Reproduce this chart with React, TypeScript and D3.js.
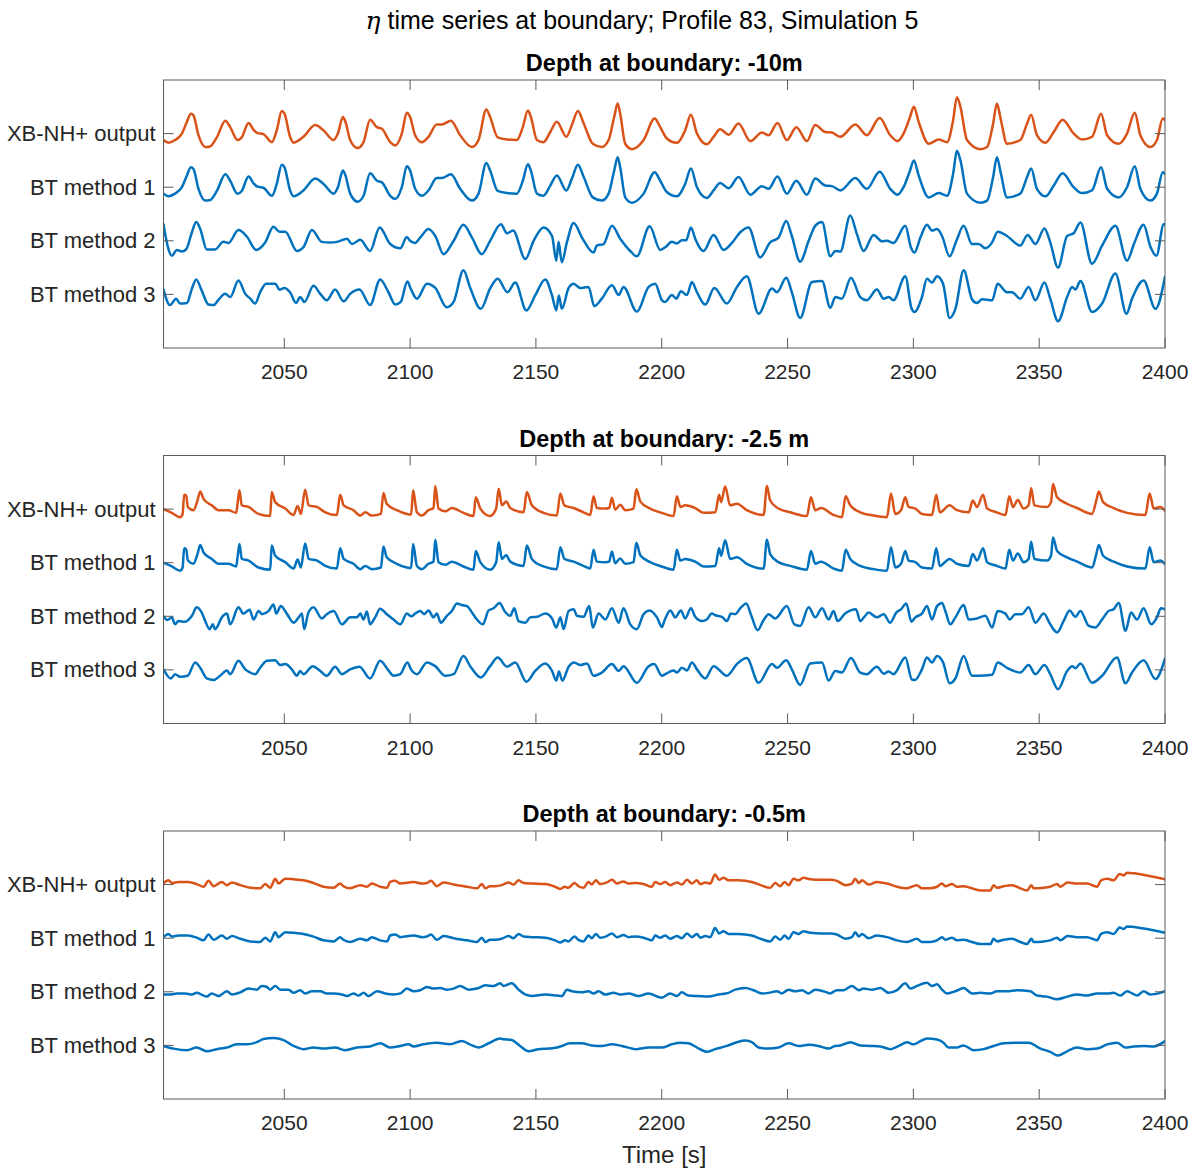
import React from 'react';
import * as d3 from 'd3';

// time axis
const xTicks = [2050, 2100, 2150, 2200, 2250, 2300, 2350, 2400];
const xDomain = [2002, 2400];

// y tick labels (top to bottom) and the offset each series is drawn at
const seriesLabels = ['XB-NH+ output', 'BT method 1', 'BT method 2', 'BT method 3'];
const seriesOffsets = [4, 3, 2, 1];

const panelTitles = ['Depth at boundary: -10m', 'Depth at boundary: -2.5 m', 'Depth at boundary: -0.5m'];

// eta values [time, eta], eta in units of the trace spacing
// panel 1 (-10 m)
const p1XB = [[2002,-0.12],[2004,-0.17],[2006.6,-0.12],[2009.3,0],[2011.3,0.22],[2012.9,0.37],[2013.9,0.34],[2015.9,-0.03],[2018.6,-0.25],[2020.5,-0.24],[2023.2,-0.07],[2026.6,0.24],[2028.5,0.12],[2031.4,-0.12],[2033.1,-0.07],[2035.8,0.2],[2037.8,0.07],[2039.4,0.01],[2041.7,-0.01],[2045.1,-0.16],[2047,0.06],[2049,0.42],[2050.1,0.37],[2052.3,-0.06],[2053.7,-0.17],[2057.6,-0.06],[2062.3,0.16],[2065.6,0.06],[2069.6,-0.12],[2071.3,0],[2073.3,0.31],[2074.3,0.22],[2076.2,-0.12],[2079.1,-0.27],[2081.5,-0.16],[2084.1,0.26],[2086.8,0.12],[2088.8,0.09],[2092.1,-0.16],[2094.1,-0.22],[2096.7,0],[2098.7,0.39],[2100,0.31],[2102,-0.03],[2104.7,-0.16],[2107.3,-0.06],[2110.6,0.17],[2112.6,0.17],[2116.2,0.24],[2119.9,-0.03],[2124.6,-0.25],[2127.2,-0.12],[2130.3,0.45],[2131.8,0.31],[2134.8,-0.07],[2138.5,-0.11],[2142.4,-0.12],[2144.8,0.12],[2146.8,0.43],[2148,0.31],[2150.4,-0.12],[2153,-0.16],[2155.7,0.03],[2158.3,0.22],[2162.1,-0.06],[2164.3,0.16],[2166.7,0.42],[2169,0.19],[2172.6,-0.19],[2176.2,-0.25],[2178.9,-0.12],[2181.1,0.31],[2182.5,0.56],[2183.5,0.37],[2185.5,-0.19],[2188.2,-0.29],[2192.8,-0.12],[2197.2,0.28],[2199.4,0.12],[2202,-0.09],[2206,-0.17],[2209.3,0.06],[2211.6,0.35],[2214,0],[2217.9,-0.2],[2220.6,-0.06],[2223.2,0.08],[2226.6,-0.02],[2230.5,0.19],[2235.2,-0.14],[2239.8,0.02],[2242.5,-0.03],[2246,0.2],[2249.7,-0.12],[2253.5,0.12],[2257.7,-0.14],[2261,0.16],[2265,0.03],[2267.6,0.02],[2271,-0.06],[2276.9,0.17],[2281.5,-0.03],[2286.6,0.29],[2290.8,-0.03],[2293.7,-0.14],[2296.1,0],[2298.6,0.3],[2300.2,0.5],[2302.1,0.22],[2306.1,-0.19],[2310.1,-0.11],[2313.4,-0.16],[2315.8,0.25],[2317.3,0.68],[2318.7,0.5],[2321.3,-0.12],[2326.6,-0.29],[2329.3,-0.25],[2331.7,0.19],[2333.2,0.56],[2334.8,0.25],[2337.2,-0.19],[2342.5,-0.12],[2345.2,0.19],[2346.8,0.35],[2349.1,-0.03],[2352.5,-0.17],[2355.8,0.03],[2359.3,0.26],[2363.7,0],[2367,-0.11],[2371,-0.06],[2374.6,0.37],[2377,-0.03],[2381.6,-0.19],[2384.9,0],[2388,0.39],[2390.2,-0.03],[2394.2,-0.25],[2396.8,-0.12],[2399.1,0.28],[2400,0.25]];
const p1BT1 = p1XB; // method 1 trace is indistinguishable from the XB-NH+ output
const p1BT2 = [[2002,0.31],[2003.6,-0.09],[2005.3,-0.28],[2007.3,-0.17],[2009.3,-0.2],[2011,-0.16],[2013.3,0.16],[2015,0.35],[2016.6,0.22],[2019.2,-0.16],[2022.5,-0.16],[2025.8,-0.02],[2027.8,-0.04],[2031.8,0.2],[2035.1,0.08],[2038.8,-0.17],[2042.4,-0.03],[2045.7,0.26],[2048.1,0.17],[2050.4,0.17],[2055,-0.19],[2057.6,-0.12],[2061,0.2],[2064.9,-0.02],[2068.2,-0.03],[2070.9,-0.02],[2074.9,0.04],[2076.9,-0.06],[2080.2,0.02],[2084.1,-0.19],[2087.9,0.25],[2092.1,-0.06],[2096.1,-0.14],[2098.7,0.07],[2100,0],[2102,-0.04],[2104,0.06],[2107.3,0.22],[2110,0.09],[2113.3,-0.25],[2117.3,0],[2121.2,0.3],[2124.6,0.06],[2128.5,-0.25],[2131.8,0],[2136.1,0.31],[2138.5,0.14],[2140.9,0.19],[2145.8,-0.34],[2149.1,0],[2153,0.25],[2156.4,0.09],[2158.1,-0.37],[2159,-0.02],[2160.3,-0.4],[2162.3,-0.03],[2165,0.33],[2168.3,0.06],[2172.9,-0.22],[2174.2,-0.09],[2176.9,-0.06],[2180.2,0.28],[2183.5,0.04],[2187.5,-0.19],[2190.1,-0.29],[2195.2,0.27],[2199.4,-0.17],[2201.4,-0.12],[2204,-0.02],[2206,-0.05],[2208,0.01],[2209.7,0.01],[2211.6,0.25],[2213.3,0.04],[2216.6,-0.19],[2220.6,0.11],[2224.6,-0.17],[2227.9,-0.04],[2231.2,0.16],[2234.5,0.25],[2239.1,-0.31],[2243.1,-0.03],[2246.4,0.06],[2249.5,0.37],[2251.7,0.09],[2255,-0.39],[2258.4,0],[2261,0.28],[2263.7,0.35],[2267,-0.29],[2269,-0.19],[2271,-0.2],[2274.9,0.47],[2277.6,0.12],[2280.2,-0.19],[2284.2,0.11],[2287.5,-0.01],[2289.5,0],[2292.1,-0.04],[2296.8,0.28],[2299,-0.12],[2300.4,-0.22],[2302.8,0.06],[2305.4,0.3],[2307.4,0.19],[2309.4,0.22],[2311.4,0.09],[2314.4,-0.29],[2317.1,0],[2320,0.28],[2323.3,-0.06],[2326,-0.06],[2328.6,-0.14],[2331.3,-0.03],[2333.5,0.17],[2337.2,0.09],[2342.5,-0.09],[2345.4,0.11],[2348.5,-0.06],[2352.1,0.23],[2354.4,-0.03],[2357.5,-0.5],[2361.1,0.09],[2363.7,0.14],[2366.4,0.34],[2371,-0.43],[2375,-0.09],[2380.3,0.28],[2384.9,-0.37],[2387.8,-0.04],[2391.5,0.3],[2394.2,-0.11],[2396.6,-0.28],[2399.5,0.31],[2400,0.3]];
const p1BT3 = [[2002,0.09],[2004.6,-0.2],[2007,-0.08],[2008.6,-0.17],[2011.3,-0.16],[2013.3,0.11],[2015,0.28],[2017.2,0.07],[2019.9,-0.19],[2021.9,-0.2],[2023.9,-0.1],[2026.5,0.01],[2028.5,-0.05],[2031.8,0.26],[2034.5,0.01],[2036.5,-0.08],[2038.4,-0.17],[2040.4,0.04],[2042.8,0.2],[2046.4,0.2],[2048.1,0.09],[2050,0.12],[2052.3,0.04],[2054.7,-0.16],[2056.3,-0.05],[2058,-0.14],[2061.6,0.16],[2064.3,0.01],[2066.9,-0.11],[2070.2,0.09],[2073.6,-0.13],[2076.2,0.01],[2079.9,0.09],[2084.1,-0.2],[2088.1,0.28],[2091.4,0.04],[2094.1,-0.19],[2096.3,-0.14],[2098.9,0.24],[2100.3,0.1],[2102.7,-0.08],[2106.7,0.2],[2110,0.12],[2114.6,-0.24],[2117.3,-0.14],[2121.2,0.45],[2123.9,0.12],[2128.1,-0.27],[2131.8,0.11],[2134.8,0.29],[2138.7,0.04],[2141.8,0.22],[2146.2,-0.3],[2149.7,-0.02],[2153.7,0.28],[2156.4,-0.02],[2158.1,-0.3],[2159.1,-0.02],[2160.3,-0.27],[2163,0.12],[2165,0.2],[2167.6,0.12],[2170.9,0.14],[2173.2,-0.22],[2176.2,-0.08],[2180.2,0.17],[2182.9,-0.01],[2184.8,0.14],[2190.1,-0.32],[2194.8,0.14],[2197.4,0.2],[2200.1,-0.11],[2201.4,-0.14],[2204,-0.01],[2205.8,-0.08],[2207.6,0.06],[2210,-0.01],[2212,0.23],[2214,0.04],[2217.3,-0.19],[2220.9,0.12],[2225.9,-0.17],[2229.9,0.14],[2233.8,0.34],[2238.5,-0.36],[2243.8,0.11],[2245.8,0.04],[2249.5,0.31],[2251.7,0.04],[2255,-0.44],[2259.7,0.23],[2263.7,0.25],[2267,-0.25],[2269,-0.05],[2271.6,-0.08],[2275.2,0.31],[2278.9,-0.05],[2281.5,-0.11],[2285.5,0.09],[2288.2,-0.08],[2290.2,-0.05],[2292.1,-0.11],[2296.8,0.34],[2299.2,-0.25],[2300.4,-0.33],[2303.4,-0.05],[2305.4,0.29],[2307.4,0.22],[2309.4,0.34],[2311.8,0.2],[2314.4,-0.44],[2316.7,-0.27],[2320,0.45],[2323.3,-0.09],[2325.3,-0.16],[2327.3,-0.09],[2331.3,-0.11],[2333.5,0.2],[2337.2,0.04],[2339.2,0.04],[2342.5,-0.08],[2345.8,0.14],[2348.5,-0.11],[2352.1,0.22],[2354.4,-0.08],[2357.5,-0.5],[2361.1,-0.05],[2363.1,0.14],[2364.4,0.09],[2366.4,0.25],[2371,-0.33],[2375,-0.17],[2380.3,0.39],[2384.7,-0.36],[2386.9,-0.08],[2391.5,0.26],[2396.2,-0.27],[2400,0.33]];

// panel 2 (-2.5 m)
const p2XB = [[2002,0],[2005.3,-0.07],[2008.6,-0.15],[2009.6,-0.09],[2010.2,0.27],[2011,0.25],[2011.7,0.04],[2013.9,-0.02],[2015.5,0.16],[2016.6,0.33],[2017.9,0.19],[2021.2,0.07],[2023.9,-0.02],[2027.8,-0.02],[2030.9,-0.07],[2031.5,0.13],[2032.2,0.35],[2033.1,0.07],[2035.8,0.04],[2039.7,-0.09],[2044.4,-0.13],[2045,0.32],[2046.4,0.13],[2050.4,0.01],[2053.7,-0.11],[2055.3,0.06],[2056.6,-0.09],[2058.3,0.36],[2059.7,0.07],[2063,0.04],[2066.3,-0.06],[2070.9,-0.11],[2072.2,0.27],[2073.6,0.07],[2077.5,-0.02],[2080.2,-0.12],[2082.2,-0.06],[2084.8,-0.12],[2088.4,-0.09],[2089.4,0.3],[2090.7,0.1],[2094.7,-0.02],[2098.7,-0.09],[2100.4,-0.1],[2101.2,0.35],[2102.7,-0.06],[2104.7,-0.12],[2107.3,-0.02],[2109.3,0.02],[2110,0.43],[2111.3,0.01],[2114,-0.04],[2116.6,0.02],[2121.2,-0.07],[2125.2,-0.13],[2126.1,0.22],[2127.9,0.01],[2131.8,-0.13],[2134.2,0.01],[2135.2,0.38],[2136.5,0.07],[2138.2,0.14],[2139.8,0.02],[2145.1,-0.06],[2146.4,0.32],[2148.4,0.07],[2153,-0.07],[2158.3,-0.12],[2159.7,0.29],[2161.3,0.07],[2165,0.02],[2168.9,-0.06],[2171.6,-0.11],[2172.9,0.24],[2174.2,0.02],[2177.6,0.01],[2179.1,0.02],[2180.2,0.21],[2181.5,-0.01],[2183.5,0.08],[2185.5,-0.02],[2188.8,0.01],[2189.9,0.37],[2191.5,0.14],[2195.4,0.01],[2200,-0.07],[2204.7,-0.13],[2206,0.24],[2207.4,0.04],[2209.3,0.07],[2213.3,0.02],[2216.6,-0.07],[2221.3,-0.06],[2222.8,0.27],[2223.6,0.13],[2225.2,0.42],[2227.2,0.07],[2229.9,0.1],[2233.8,-0.02],[2240.5,-0.11],[2241.8,0.43],[2243.1,0.16],[2246.4,0.01],[2251.1,-0.06],[2257.7,-0.13],[2259.3,0.22],[2261,-0.02],[2263.3,0.02],[2268.3,-0.11],[2271.6,-0.15],[2273.1,0.24],[2274.9,0.07],[2278.9,-0.06],[2284.2,-0.12],[2289.5,-0.15],[2291.1,0.29],[2292.8,-0.09],[2295.1,-0.02],[2296.8,0.22],[2298.1,0.04],[2300.8,0.01],[2303.4,-0.09],[2307.4,-0.11],[2309.1,0.27],[2310.5,-0.06],[2314.4,0.07],[2317.3,-0.02],[2322,-0.06],[2323.6,0.16],[2325.3,0.04],[2327.7,0.27],[2329.3,0.01],[2333.2,-0.06],[2336.6,-0.11],[2338.1,0.24],[2339.6,0.04],[2341.5,0.17],[2343.8,0.01],[2345.8,0.07],[2346.8,0.39],[2348.1,0.07],[2353.1,0.04],[2354.7,0.13],[2355.5,0.47],[2357.1,0.22],[2361.1,0.1],[2365.1,0.02],[2371,-0.09],[2372.7,0.16],[2373.7,0.33],[2375.4,0.13],[2379.6,0.02],[2384.9,-0.07],[2392.2,-0.11],[2393.9,0.29],[2395.5,0.01],[2398.2,0.04],[2400,-0.03]];
const p2BT1 = p2XB;
const p2BT2 = [[2002,0],[2003.6,-0.07],[2005.3,-0.02],[2006.6,-0.15],[2007.9,-0.09],[2010.6,-0.1],[2013.3,0.01],[2015.2,0.17],[2017.2,0.07],[2018.6,-0.09],[2020.3,-0.24],[2021.6,-0.15],[2022.5,-0.24],[2025.2,-0.02],[2027.2,0.05],[2028.5,-0.15],[2031.8,0.17],[2033.7,0.05],[2036.2,0.12],[2037.8,-0.06],[2039.8,0.1],[2041.1,0.04],[2043.8,0.1],[2045.7,0.22],[2046.8,0.05],[2048.6,0.19],[2051,0.05],[2053.7,-0.12],[2055.7,-0.02],[2057,0.05],[2057.9,-0.24],[2059.6,0.07],[2061.6,0.17],[2064.9,-0.04],[2066.9,0.04],[2069.6,0.1],[2072.9,-0.15],[2076.2,-0.02],[2078.9,-0.02],[2080.2,0.05],[2081.5,-0.06],[2082.8,0.09],[2084.1,-0.15],[2086.1,-0.02],[2088.1,0.14],[2090.7,0.04],[2093.4,-0.06],[2096.1,-0.15],[2098.7,0.05],[2100.5,0],[2102,0.05],[2104,0.1],[2105.6,0.04],[2107.3,0.11],[2109.3,-0.02],[2110.6,0.05],[2112.2,-0.12],[2114.6,0.01],[2116.6,0.1],[2118.6,0.24],[2120.6,0.21],[2122.6,0.19],[2124.6,0.07],[2125.9,-0.02],[2128.9,-0.15],[2131.2,0.11],[2133.2,0.15],[2135.6,0.25],[2137.5,0.1],[2139.8,0.01],[2141.4,0.15],[2143.1,-0.09],[2145.8,-0.12],[2147.7,-0.02],[2150.4,-0.01],[2153.7,0.05],[2156.4,-0.04],[2158.1,-0.21],[2159.7,-0.02],[2161,-0.24],[2163,0.1],[2165,0.13],[2166.3,0.01],[2168.9,-0.01],[2171.2,0.19],[2172.6,-0.21],[2174.9,0.05],[2177.6,-0.06],[2180.2,0.15],[2182.9,-0.12],[2184.8,0.15],[2187.5,-0.15],[2190.1,-0.24],[2192.8,0.04],[2195.2,0.11],[2198.1,-0.02],[2200.1,-0.2],[2201,-0.09],[2203.4,0.11],[2205.4,-0.02],[2207.6,0.11],[2209.3,-0.04],[2211.6,0.15],[2213.3,-0.01],[2216,-0.09],[2217.9,-0.06],[2219.9,0.05],[2221.3,0.02],[2223.9,-0.01],[2225.9,-0.09],[2227.5,0.05],[2229.2,0.04],[2231.2,0.15],[2233.6,0.24],[2235.4,0.04],[2238.1,-0.26],[2240.5,-0.07],[2242.5,0.04],[2245.1,-0.04],[2249.7,0.19],[2252.7,-0.15],[2255,-0.18],[2258.4,0.17],[2261,-0.02],[2263.7,0.15],[2266.3,-0.06],[2268.3,0.1],[2269.9,-0.09],[2272.9,0.05],[2277.2,0.13],[2278.9,-0.09],[2280.5,-0.01],[2282.2,0.07],[2285.5,-0.02],[2288.2,0.04],[2290.8,-0.12],[2293.2,0.07],[2295.1,0.13],[2297.2,0.24],[2299.2,-0.1],[2300.8,-0.02],[2303.4,0.05],[2305.4,0.19],[2307.4,-0.06],[2309.4,0.19],[2311.4,0.25],[2312.7,0.1],[2314.7,-0.15],[2316.7,-0.02],[2320,0.21],[2322,-0.06],[2325.3,-0.04],[2328.6,0.01],[2331.3,-0.21],[2333.5,0.1],[2336.6,0.05],[2338.3,-0.06],[2340.5,0.04],[2343.2,0.04],[2345.8,0.17],[2348.5,-0.12],[2351.8,0.05],[2354.4,-0.15],[2357.1,-0.3],[2359.7,-0.09],[2362.1,0.11],[2364.4,-0.01],[2366.4,0.1],[2369.7,-0.18],[2372.3,-0.21],[2375,-0.06],[2377.6,0.1],[2379.6,0.13],[2381.6,0.25],[2384.3,-0.27],[2386.5,0.07],[2388.9,-0.06],[2391.5,0.15],[2394.5,-0.15],[2396.8,-0.02],[2398.4,0.15],[2400,0.13]];
const p2BT3 = [[2002,0.01],[2004.9,-0.16],[2006.6,-0.08],[2008.6,-0.13],[2011.6,-0.11],[2014.6,0.14],[2016.6,0.04],[2019.2,-0.16],[2021.9,-0.19],[2024.5,-0.11],[2027.2,-0.01],[2028.5,-0.08],[2031.8,0.17],[2034.5,0.01],[2036.5,-0.05],[2038.4,-0.08],[2040.4,0.04],[2043.1,0.17],[2046.4,0.18],[2048.4,0.09],[2050.4,0.11],[2053,0.01],[2055,-0.11],[2056.3,-0.02],[2057.6,-0.08],[2061.3,0.07],[2064.3,-0.02],[2066.9,-0.11],[2070.2,0.06],[2072.9,-0.08],[2076.2,0.01],[2079.9,0.06],[2084.1,-0.16],[2088.1,0.17],[2091.4,-0.01],[2093.4,-0.11],[2096.1,-0.08],[2098.9,0.14],[2100.5,0],[2102.7,-0.08],[2106.7,0.14],[2110,0.07],[2114,-0.11],[2117.3,-0.08],[2121.2,0.26],[2123.9,0.07],[2128.1,-0.14],[2131.8,0.07],[2134.8,0.23],[2138.5,0.06],[2141.8,0.14],[2146.2,-0.22],[2149.7,-0.02],[2153.7,0.12],[2156.4,-0.02],[2158.1,-0.2],[2159.1,-0.03],[2160.5,-0.2],[2163,0.06],[2165.2,0.14],[2167.6,0.09],[2170.3,0.12],[2172.9,-0.11],[2176.2,-0.05],[2180.2,0.11],[2182.9,-0.02],[2184.8,0.07],[2190.1,-0.24],[2194.8,0.07],[2197,0.11],[2200.1,-0.11],[2201.4,-0.08],[2204.7,-0.01],[2206,-0.05],[2208,0.04],[2210,-0.01],[2212,0.14],[2214,0.01],[2217.3,-0.16],[2220.6,0.07],[2225.9,-0.11],[2229.9,0.11],[2233.8,0.22],[2238.5,-0.24],[2243.8,0.11],[2245.8,0.04],[2249.5,0.18],[2251.7,0.01],[2255,-0.28],[2259,0.12],[2263.7,0.14],[2266.3,-0.2],[2269,-0.02],[2271.6,-0.05],[2275.2,0.22],[2278.9,-0.05],[2281.5,-0.08],[2285.5,0.06],[2288.2,-0.07],[2290.2,-0.03],[2292.1,-0.08],[2296.8,0.23],[2299.4,-0.18],[2300.6,-0.19],[2303.4,0.01],[2305.4,0.23],[2307.4,0.14],[2309.4,0.26],[2311.8,0.14],[2314.4,-0.25],[2316.7,-0.16],[2320,0.26],[2323.3,-0.11],[2326,-0.11],[2331.3,-0.09],[2333.5,0.14],[2337.2,0.04],[2342.5,-0.05],[2345.8,0.09],[2348.5,-0.08],[2352.1,0.09],[2354.4,-0.08],[2357.5,-0.36],[2361.1,-0.02],[2363.1,0.07],[2364.4,0.03],[2366.4,0.12],[2371,-0.24],[2375,-0.11],[2380.9,0.23],[2384.3,-0.25],[2386.9,-0.05],[2391.5,0.18],[2396.2,-0.17],[2400,0.21]];

// panel 3 (-0.5 m)
const p3XB = [[2002,0.02],[2004,0.08],[2005.3,0.03],[2008,0.05],[2011.9,0.05],[2015.2,0.01],[2017.9,-0.04],[2019.9,0.07],[2021.9,-0.03],[2025.2,0.05],[2027.2,-0.01],[2029.2,0.04],[2032.5,-0.01],[2036.5,-0.06],[2040.4,-0.07],[2042.4,0.01],[2044.4,-0.06],[2046.4,0.11],[2047.7,0.02],[2050.4,0.11],[2053.7,0.1],[2057.6,0.08],[2061.6,0.03],[2065.6,-0.04],[2069.6,-0.06],[2072.2,0.02],[2073.5,-0.03],[2076.2,-0.07],[2080.2,-0.01],[2082.8,-0.04],[2084.8,0.02],[2088.1,-0.04],[2090.8,-0.06],[2092.1,0.05],[2094.1,0.07],[2096.1,0.02],[2101.4,0.05],[2104.7,0.02],[2106.7,0.03],[2108.3,0.07],[2110.6,-0.03],[2113.3,0.04],[2117.3,0],[2122.6,-0.04],[2126.6,-0.07],[2128.5,0.01],[2129.9,-0.07],[2131.8,-0.03],[2133.8,-0.03],[2136.4,-0.01],[2139.1,0.04],[2141.1,0],[2143.1,0.08],[2145.1,0.03],[2148.4,0.02],[2153.7,0.01],[2157.6,-0.04],[2159.6,-0.08],[2161.6,-0.04],[2162.9,-0.06],[2165.3,0.03],[2166.9,-0.03],[2168.9,-0.06],[2170.9,0.05],[2172.2,0],[2173.8,0.08],[2175.5,0.01],[2178.2,0.04],[2180.2,0.09],[2182.2,0.02],[2184.8,0.06],[2186.8,0.02],[2189.4,0.03],[2192.8,0.01],[2196.1,-0.04],[2197.4,0.05],[2199.4,0.01],[2201.4,0.05],[2203.4,-0.01],[2206,0.04],[2208,0],[2210,0.09],[2212,0.02],[2214,0.08],[2215.3,0.01],[2217.3,0.04],[2219.3,0.02],[2221.2,0.19],[2222.8,0.09],[2224.6,0.13],[2226.5,0.08],[2230.5,0.08],[2235.8,0.05],[2239.8,-0.02],[2243.1,-0.06],[2245.1,0.03],[2247.1,-0.03],[2248.8,0.05],[2250.4,-0.01],[2252.4,0.11],[2254.4,0.08],[2256.3,0.13],[2259,0.1],[2263.6,0.09],[2267,0.09],[2269.6,0.07],[2273,-0.01],[2275.6,0.02],[2276.9,0.11],[2278.3,0.03],[2279.6,0.08],[2282.2,0],[2285.5,0.05],[2289.5,0.02],[2293.5,-0.04],[2297.5,-0.07],[2301.4,-0.01],[2303.4,-0.07],[2306.7,-0.07],[2309.4,-0.04],[2311.4,0.02],[2312.7,-0.03],[2315.4,0.01],[2317.3,-0.04],[2320,-0.03],[2322.6,-0.06],[2326.6,-0.11],[2330.6,-0.11],[2331.9,-0.01],[2333.2,-0.06],[2335.9,-0.03],[2339.2,-0.01],[2342.5,-0.07],[2345.2,-0.11],[2346.9,-0.01],[2347.8,-0.07],[2351.8,-0.06],[2354.4,-0.04],[2357.1,0.01],[2358.4,-0.04],[2361.3,0.04],[2365,0.02],[2369,0.02],[2373,-0.04],[2374.6,0.08],[2377,0.11],[2379.6,0.08],[2382,0.2],[2383.6,0.17],[2384.9,0.22],[2387.6,0.21],[2392.9,0.17],[2400,0.1]];
const p3BT1 = p3XB;
const p3BT2 = [[2002,-0.05],[2004.6,-0.05],[2007.3,-0.03],[2010.6,-0.03],[2013.3,-0.05],[2015.2,-0.02],[2019.2,-0.09],[2021.2,-0.03],[2023.9,-0.08],[2027.2,0.01],[2029.2,-0.05],[2032.5,-0.01],[2035.8,0.06],[2039.1,0.04],[2041.1,0.11],[2043.1,0.09],[2044.4,0.04],[2046.4,0.11],[2048.4,0.04],[2051.7,0.04],[2053.7,-0.02],[2056.3,0.03],[2058.3,-0.03],[2061,0.01],[2064.3,0.01],[2066.9,-0.03],[2069.6,-0.03],[2072.9,-0.05],[2074.9,-0.08],[2077.5,-0.03],[2079.5,-0.07],[2081.5,-0.02],[2083.5,-0.08],[2086.8,0.01],[2090.1,-0.03],[2093.4,-0.05],[2096.1,-0.03],[2098.7,0.06],[2101.4,0.01],[2104,0.03],[2106.7,0.09],[2109.3,0.06],[2112,0.07],[2114.6,0.04],[2117.3,0.06],[2119.9,0.11],[2123.2,0.04],[2126.6,0.06],[2129.9,0.12],[2133.2,0.11],[2135.8,0.16],[2137.1,0.11],[2140.4,0.16],[2143.1,0.04],[2145.7,-0.05],[2148.4,-0.08],[2153.7,-0.05],[2158.3,-0.07],[2160.3,-0.08],[2162.3,0.04],[2164.3,0.01],[2168.2,-0.01],[2170.9,0.01],[2172.9,-0.03],[2174.9,0.01],[2177.5,-0.05],[2180.8,-0.02],[2183.5,-0.05],[2186.8,-0.03],[2190.8,-0.08],[2194.7,-0.03],[2200,-0.11],[2203.4,-0.03],[2206,-0.08],[2208,-0.01],[2210.6,-0.07],[2214.6,-0.08],[2218.6,-0.09],[2222.6,-0.05],[2226.5,-0.02],[2229.2,0.04],[2233.2,0.07],[2236.5,0.03],[2239.8,-0.03],[2242.4,-0.02],[2245.8,0.01],[2247.7,-0.03],[2250.4,0.04],[2253,0.01],[2255.7,0.03],[2258.3,-0.03],[2261,0.04],[2264.3,0.01],[2266.9,-0.03],[2269.6,0.03],[2272.3,0.03],[2275.6,0.11],[2278.3,0.03],[2280.2,0.06],[2283.6,0.04],[2286.9,0.07],[2290.2,-0.02],[2293.5,0.03],[2296.8,0.16],[2298.8,0.06],[2301.4,0.11],[2305.4,0.17],[2307.4,0.11],[2309.4,0.14],[2311.4,0.04],[2313.4,-0.03],[2316.7,0.01],[2320,0.07],[2323.3,-0.03],[2326.6,-0.02],[2330.6,-0.03],[2333.2,0.01],[2337.2,0.01],[2341.2,0.03],[2346.5,0.01],[2349.1,-0.07],[2353.1,-0.09],[2357.1,-0.14],[2361.1,-0.09],[2365,-0.05],[2369,-0.07],[2373,-0.03],[2377,-0.03],[2379.6,-0.02],[2382.3,-0.07],[2384.9,0.01],[2386.9,-0.03],[2388.9,-0.07],[2391.5,0.01],[2394.2,-0.05],[2397.5,-0.03],[2400,0.01]];
const p3BT3 = [[2002,-0.01],[2006,-0.06],[2011.3,-0.09],[2015.2,-0.04],[2019.2,-0.11],[2023.2,-0.07],[2027.2,-0.04],[2031.1,0.02],[2035.1,0.02],[2039.1,0.06],[2041.7,0.12],[2045.7,0.14],[2049.7,0.1],[2053.7,-0.01],[2057.6,-0.07],[2061.6,-0.04],[2065.6,-0.06],[2070.2,-0.04],[2074.2,-0.09],[2078.8,-0.04],[2084.1,-0.02],[2088.1,0.04],[2092.1,-0.04],[2096.1,-0.01],[2099.4,0.02],[2101.4,-0.02],[2105.3,0.02],[2110.6,0.05],[2115.9,0.02],[2120.5,0.08],[2124.6,0],[2127.2,-0.04],[2131.2,0.04],[2135.8,0.13],[2136.4,0.12],[2140.4,0.1],[2143.7,-0.01],[2147.1,-0.11],[2151,-0.07],[2155,-0.06],[2158.3,-0.04],[2160.3,-0.01],[2163.6,0.04],[2168.2,0.04],[2172.2,0],[2176.2,-0.01],[2180.2,0.02],[2184.1,-0.01],[2190.1,-0.07],[2194.7,-0.04],[2200,-0.04],[2204,0.02],[2207.3,0.05],[2210.6,0.04],[2214,-0.04],[2217.9,-0.12],[2221.2,-0.07],[2225.9,-0.01],[2229.9,0.06],[2233.2,0.09],[2235.8,0.06],[2238.5,-0.04],[2242.4,-0.06],[2246.4,-0.04],[2250.4,0.04],[2254.4,-0.01],[2258.3,0.01],[2262.3,-0.01],[2266.3,-0.06],[2268.9,-0.01],[2271,0],[2275,0.06],[2278.9,0],[2282.9,-0.01],[2286.9,-0.02],[2290.8,-0.07],[2294.2,-0.01],[2297.5,0.06],[2300.1,0.02],[2302.8,0.08],[2305.4,0.13],[2309.4,0.11],[2312,0.05],[2314,-0.04],[2317.3,-0.04],[2320,0],[2323.9,-0.09],[2327.9,-0.07],[2331.9,-0.01],[2335.9,0.04],[2340.5,0.05],[2345.8,0.05],[2350.5,-0.06],[2354.4,-0.12],[2357.4,-0.19],[2361.1,-0.11],[2365,-0.04],[2369,-0.07],[2373,-0.06],[2377,0.02],[2381,0.05],[2384.2,-0.04],[2387.6,-0.02],[2391.5,-0.01],[2395.5,-0.02],[2400,0.08]];

const panelSeries = [
  [p1XB, p1BT1, p1BT2, p1BT3],
  [p2XB, p2BT1, p2BT2, p2BT3],
  [p3XB, p3BT1, p3BT2, p3BT3],
];

const W = 1199;
const H = 1169;
const left = 163.5;
const right = 1165;
const panelTop = [80, 455.5, 831];
const panelH = 268;
const orange = '#D95319';
const blue = '#0072BD';
const font = "'Liberation Sans', Arial, Helvetica, sans-serif";
const tickLen = 10;

const x = d3.scaleLinear().domain(xDomain).range([left, right]);

const Panel = ({ idx }: { idx: number }) => {
  const top = panelTop[idx];
  const bottom = top + panelH;
  const y = d3.scaleLinear().domain([0, 5]).range([bottom, top]);
  return (
    <g>
      <text x={(left + right) / 2} y={top - 9} textAnchor="middle" fontFamily={font} fontWeight="bold" fontSize={23.5} fill="#000">
        {panelTitles[idx]}
      </text>
      <defs>
        <clipPath id={`clip${idx}`}>
          <rect x={left} y={top} width={right - left} height={panelH} />
        </clipPath>
      </defs>
      <g clipPath={`url(#clip${idx})`}>
        {panelSeries[idx].map((s, k) => {
          const line = d3.line<number[]>()
            .x((d) => x(d[0]))
            .y((d) => y(seriesOffsets[k] + d[1]))
            .curve(d3.curveMonotoneX);
          return (
            <path key={k} d={line(s) || ''} fill="none" stroke={k === 0 ? orange : blue} strokeWidth={2.5} strokeLinejoin="round" strokeLinecap="round" />
          );
        })}
      </g>
      <rect x={left} y={top} width={right - left} height={panelH} fill="none" stroke="#5a5a5a" strokeWidth={1} />
      {xTicks.map((t) => (
        <g key={t}>
          <line x1={x(t)} x2={x(t)} y1={bottom} y2={bottom - tickLen} stroke="#5a5a5a" />
          <line x1={x(t)} x2={x(t)} y1={top} y2={top + tickLen} stroke="#5a5a5a" />
          <text x={x(t)} y={bottom + 31} textAnchor="middle" fontFamily={font} fontSize={21} fill="#262626">{t}</text>
        </g>
      ))}
      {seriesOffsets.map((o, k) => (
        <g key={o}>
          <line x1={left} x2={left + tickLen} y1={y(o)} y2={y(o)} stroke="#5a5a5a" />
          <line x1={right} x2={right - tickLen} y1={y(o)} y2={y(o)} stroke="#5a5a5a" />
          <text x={left - 8} y={y(o) + 7.5} textAnchor="end" fontFamily={font} fontSize={22} fill="#262626">{seriesLabels[k]}</text>
        </g>
      ))}
    </g>
  );
};

export default function App() {
  return (
    <svg width={W} height={H} style={{ position: 'absolute', left: 0, top: 0, background: '#fff' }}>
      <rect width={W} height={H} fill="#fff" />
      <text x={642} y={29} textAnchor="middle" fontFamily={font} fontSize={25} fill="#000">
        <tspan fontFamily="'DejaVu Serif', 'Liberation Serif', serif" fontStyle="italic">η</tspan>
        {' time series at boundary; Profile 83, Simulation 5'}
      </text>
      {[0, 1, 2].map((i) => <Panel key={i} idx={i} />)}
      <text x={(left + right) / 2} y={1163} textAnchor="middle" fontFamily={font} fontSize={24} fill="#262626">Time [s]</text>
    </svg>
  );
}
